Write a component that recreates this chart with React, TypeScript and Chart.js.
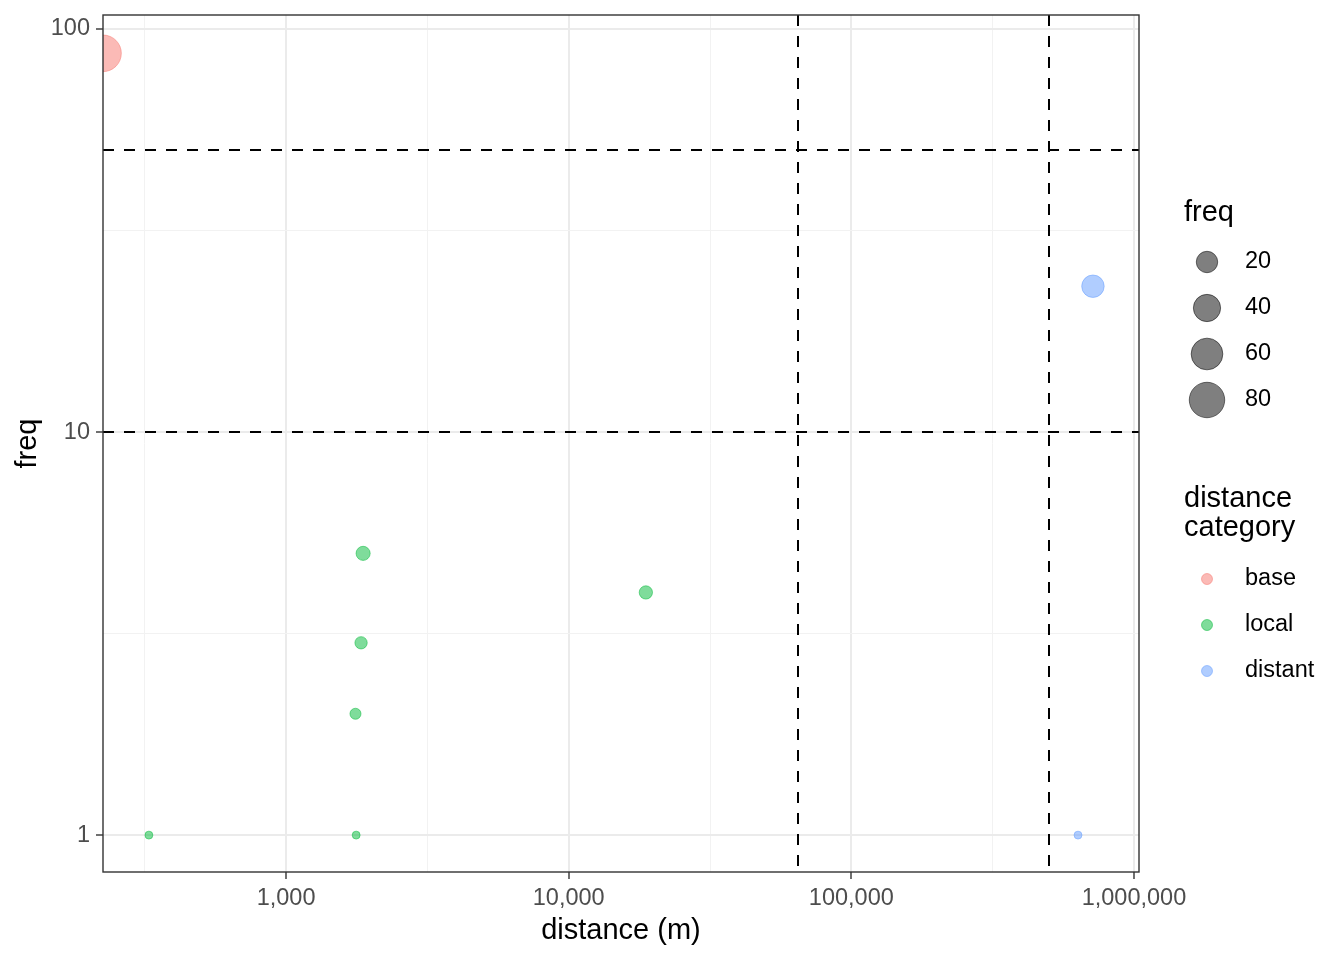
import React, { useEffect, useRef } from "react";
import { Chart, registerables } from "chart.js";

Chart.register(...registerables);

const FONT = '"Liberation Sans", Arial, Helvetica, sans-serif';

// ---- data ----
const categories = ["base", "local", "distant"];
const categoryColors = ["rgba(248,118,109,0.5)", "rgba(0,186,56,0.5)", "rgba(97,156,255,0.5)"];

const baseDistance = [225];
const baseFreq = [87];
const localDistance = [327, 1770, 1760, 1842, 1873, 18750];
const localFreq = [1, 1, 2, 3, 5, 4];
const distantDistance = [716000, 634000];
const distantFreq = [23, 1];

const freqCutoffs = [10, 50];
const distanceCutoffs = [65000, 500000];

const xMajorTicks = [1000, 10000, 100000, 1000000];
const xMinorTicks = [316.2278, 3162.278, 31622.78, 316227.8];
const yMajorTicks = [1, 10, 100];
const yMinorTicks = [3.162278, 31.62278];

const sizeLegendBreaks = [20, 40, 60, 80];

const xLimits = [225, 1042000];
const yLimits = [0.81, 108.3];

// ---- size mapping (ggplot-like area scale) ----
const allFreq = [...baseFreq, ...localFreq, ...distantFreq];
const fMin = Math.min(...allFreq);
const fMax = Math.max(...allFreq);
function radiusFor(f: number): number {
  const s = 1 + 5 * Math.sqrt((f - fMin) / (fMax - fMin));
  return 1.1 + 2.87 * s;
}

const seriesDistance = [baseDistance, localDistance, distantDistance];
const seriesFreq = [baseFreq, localFreq, distantFreq];

function isMajor(v: number, majors: number[]) {
  return majors.some((m) => Math.abs(Math.log10(m) - Math.log10(v)) < 1e-6);
}

const refLinesPlugin = {
  id: "refLines",
  afterDatasetsDraw(chart: any) {
    const { ctx, chartArea: a, scales } = chart;
    const x = scales.x;
    const y = scales.y;
    ctx.save();
    ctx.beginPath();
    ctx.rect(a.left, a.top, a.right - a.left, a.bottom - a.top);
    ctx.clip();
    ctx.strokeStyle = "#000000";
    ctx.lineWidth = 2;
    ctx.setLineDash([11, 10]);
    for (const v of freqCutoffs) {
      const py = Math.round(y.getPixelForValue(v));
      ctx.beginPath();
      ctx.moveTo(a.left, py);
      ctx.lineTo(a.right, py);
      ctx.stroke();
    }
    for (const v of distanceCutoffs) {
      const px = Math.round(x.getPixelForValue(v));
      ctx.beginPath();
      ctx.moveTo(px, a.top);
      ctx.lineTo(px, a.bottom);
      ctx.stroke();
    }
    ctx.restore();
    ctx.save();
    ctx.strokeStyle = "#333333";
    ctx.lineWidth = 1.4;
    ctx.strokeRect(a.left, a.top, a.right - a.left, a.bottom - a.top);
    ctx.restore();
  },
};

const legendPlugin = {
  id: "customLegend",
  afterDraw(chart: any) {
    const { ctx } = chart;
    ctx.save();
    // size legend
    ctx.fillStyle = "#000000";
    ctx.font = `29px ${FONT}`;
    ctx.textAlign = "left";
    ctx.textBaseline = "alphabetic";
    ctx.fillText("freq", 1184, 221);
    sizeLegendBreaks.forEach((b, i) => {
      const cy = 262 + i * 46;
      const r = radiusFor(b);
      ctx.beginPath();
      ctx.arc(1207, cy, r, 0, Math.PI * 2);
      ctx.fillStyle = "rgba(0,0,0,0.5)";
      ctx.fill();
      ctx.lineWidth = 1;
      ctx.strokeStyle = "rgba(0,0,0,0.5)";
      ctx.stroke();
      ctx.fillStyle = "#000000";
      ctx.font = `23.5px ${FONT}`;
      ctx.textBaseline = "middle";
      ctx.fillText(String(b), 1245, cy);
    });
    // colour legend
    ctx.font = `29px ${FONT}`;
    ctx.textBaseline = "alphabetic";
    ctx.fillStyle = "#000000";
    ctx.fillText("distance", 1184, 507);
    ctx.fillText("category", 1184, 536);
    categories.forEach((c, i) => {
      const cy = 579 + i * 46;
      ctx.beginPath();
      ctx.arc(1207, cy, 5.5, 0, Math.PI * 2);
      ctx.fillStyle = categoryColors[i];
      ctx.fill();
      ctx.lineWidth = 1;
      ctx.strokeStyle = categoryColors[i];
      ctx.stroke();
      ctx.fillStyle = "#000000";
      ctx.font = `23.5px ${FONT}`;
      ctx.textBaseline = "middle";
      ctx.fillText(c, 1245, cy);
    });
    ctx.restore();
  },
};

export default function App() {
  const canvasRef = useRef<HTMLCanvasElement | null>(null);

  useEffect(() => {
    if (!canvasRef.current) return;
    Chart.defaults.font.family = FONT;

    const datasets = categories.map((c, i) => ({
      label: c,
      data: seriesDistance[i].map((d, j) => ({ x: d, y: seriesFreq[i][j] })),
      backgroundColor: categoryColors[i],
      borderColor: categoryColors[i],
      borderWidth: 1,
      pointRadius: seriesFreq[i].map((f) => radiusFor(f)),
      pointHoverRadius: seriesFreq[i].map((f) => radiusFor(f)),
      clip: 0,
    }));

    const gridColor = (majors: number[]) => (ctx: any) =>
      ctx.tick && isMajor(ctx.tick.value, majors) ? "#EBEBEB" : "#F2F2F2";
    const gridWidth = (majors: number[]) => (ctx: any) =>
      ctx.tick && isMajor(ctx.tick.value, majors) ? 2 : 1;
    const tickColor = (majors: number[]) => (ctx: any) =>
      ctx.tick && isMajor(ctx.tick.value, majors) ? "#333333" : "rgba(0,0,0,0)";

    const chart = new Chart(canvasRef.current, {
      type: "scatter",
      data: { datasets },
      plugins: [refLinesPlugin, legendPlugin],
      options: {
        animation: false,
        responsive: false,
        devicePixelRatio: 1,
        layout: { autoPadding: false, padding: { left: 0, top: 15, right: 205, bottom: 0 } },
        plugins: { legend: { display: false }, tooltip: { enabled: false } },
        events: [],
        scales: {
          x: {
            type: "logarithmic",
            min: xLimits[0],
            max: xLimits[1],
            afterFit: (s: any) => {
              s.height = 88;
              s.paddingLeft = 0;
              s.paddingRight = 0;
            },
            afterBuildTicks: (s: any) => {
              s.ticks = [...xMinorTicks, ...xMajorTicks]
                .filter((v) => v >= xLimits[0] && v <= xLimits[1])
                .sort((a, b) => a - b)
                .map((v) => ({ value: v }));
            },
            ticks: {
              autoSkip: false,
              maxRotation: 0,
              minRotation: 0,
              padding: 5,
              color: "#4D4D4D",
              font: { family: FONT, size: 23.5 },
              callback: (v: any) =>
                isMajor(Number(v), xMajorTicks) ? Number(v).toLocaleString("en-US") : "",
            },
            grid: {
              color: gridColor(xMajorTicks),
              lineWidth: gridWidth(xMajorTicks),
              drawTicks: true,
              tickLength: 7,
              tickColor: tickColor(xMajorTicks),
              tickWidth: 1.4,
            },
            border: { display: false },
            title: {
              display: true,
              text: "distance (m)",
              color: "#000000",
              font: { family: FONT, size: 29 },
              padding: { top: 0, bottom: 12 },
            },
          },
          y: {
            type: "logarithmic",
            min: yLimits[0],
            max: yLimits[1],
            afterFit: (s: any) => {
              s.width = 103;
              s.paddingTop = 0;
              s.paddingBottom = 0;
            },
            afterBuildTicks: (s: any) => {
              s.ticks = [...yMinorTicks, ...yMajorTicks]
                .filter((v) => v >= yLimits[0] && v <= yLimits[1])
                .sort((a, b) => a - b)
                .map((v) => ({ value: v }));
            },
            ticks: {
              autoSkip: false,
              padding: 6,
              color: "#4D4D4D",
              font: { family: FONT, size: 23.5 },
              callback: (v: any) => (isMajor(Number(v), yMajorTicks) ? String(Number(v)) : ""),
            },
            grid: {
              color: gridColor(yMajorTicks),
              lineWidth: gridWidth(yMajorTicks),
              drawTicks: true,
              tickLength: 7,
              tickColor: tickColor(yMajorTicks),
              tickWidth: 1.4,
            },
            border: { display: false },
            title: {
              display: true,
              text: "freq",
              color: "#000000",
              font: { family: FONT, size: 29 },
              padding: { top: 11, bottom: 0 },
            },
          },
        },
      } as any,
    });
    return () => chart.destroy();
  }, []);

  return (
    <div style={{ position: "absolute", left: 0, top: 0, width: 1344, height: 960, background: "#ffffff" }}>
      <canvas ref={canvasRef} width={1344} height={960} style={{ width: 1344, height: 960 }} />
    </div>
  );
}
